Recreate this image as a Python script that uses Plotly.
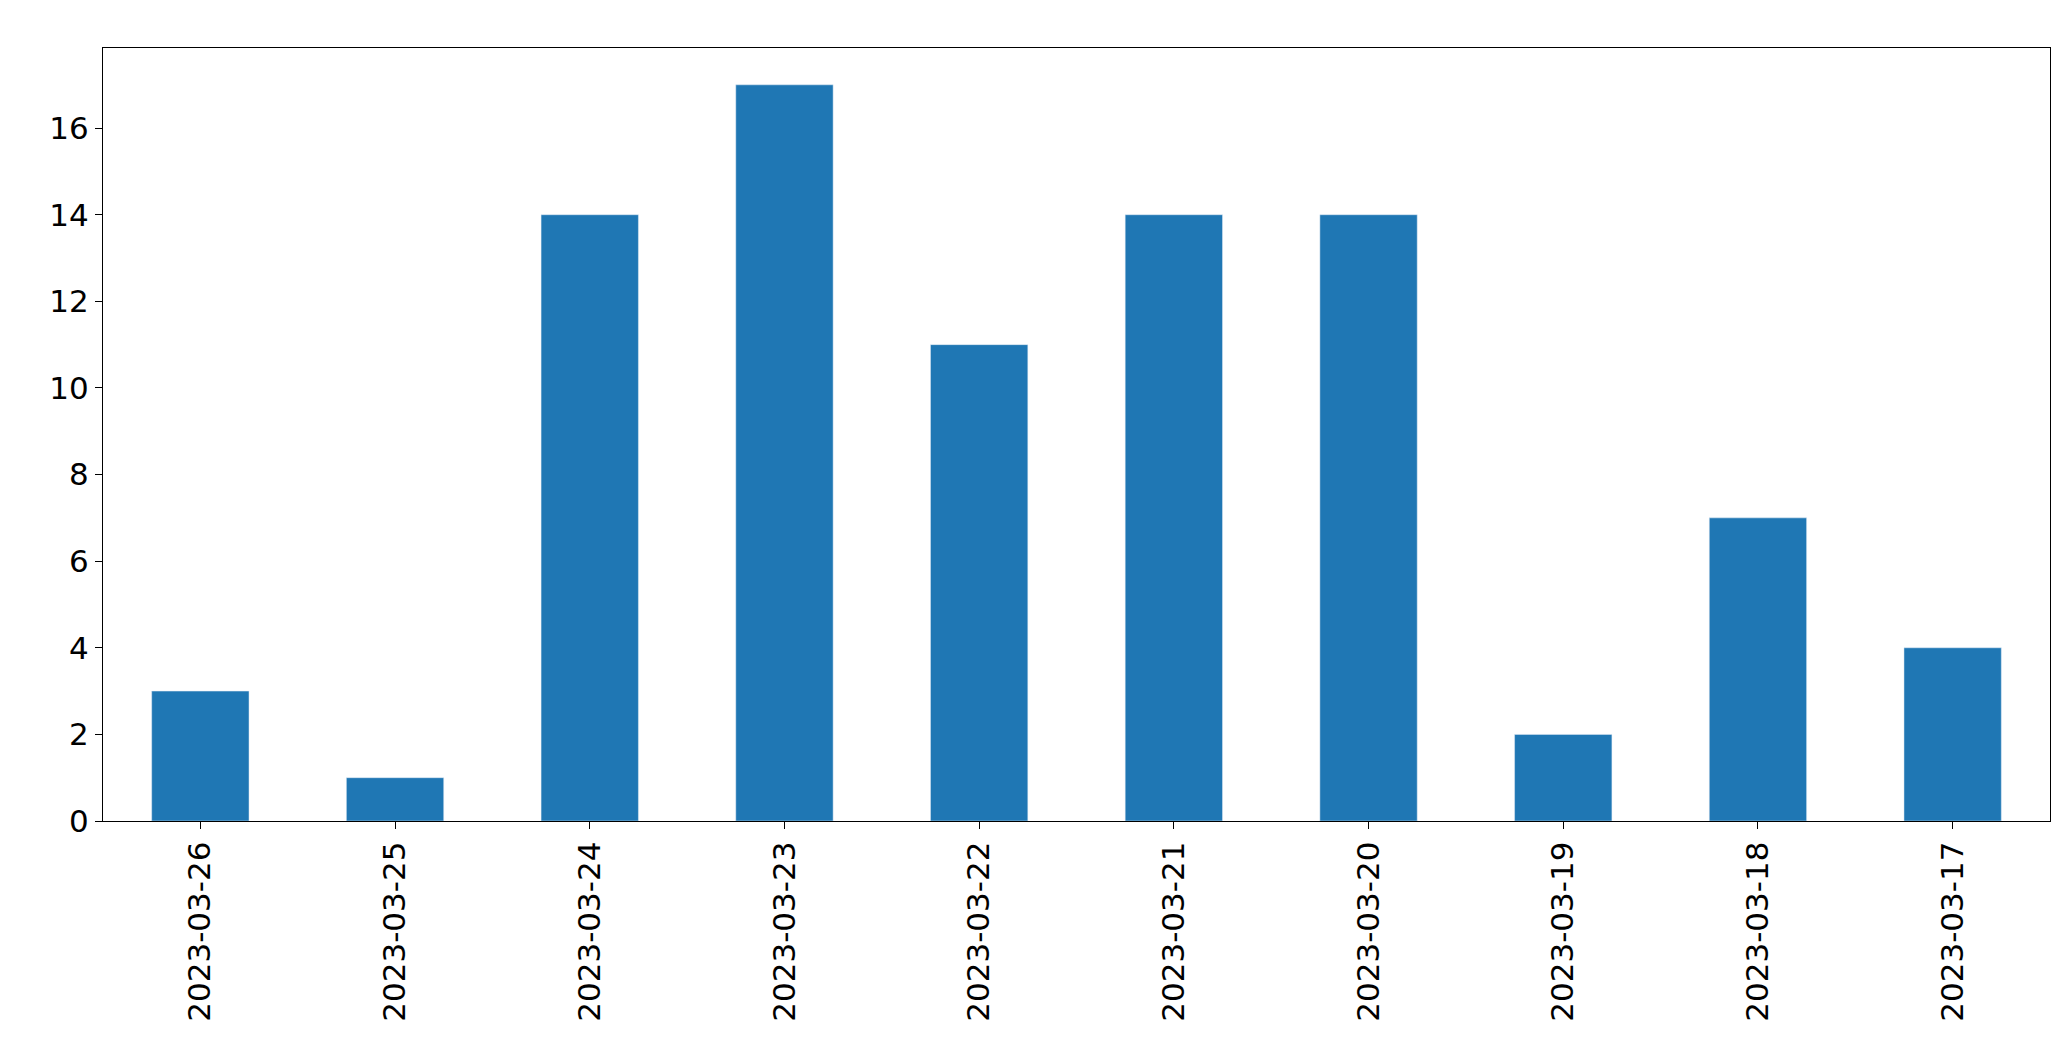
import plotly.graph_objects as go

dates = ['2023-03-26', '2023-03-25', '2023-03-24', '2023-03-23', '2023-03-22',
         '2023-03-21', '2023-03-20', '2023-03-19', '2023-03-18', '2023-03-17']
counts = [3, 1, 14, 17, 11, 14, 14, 2, 7, 4]

fig = go.Figure(data=[go.Bar(x=dates, y=counts, marker_color='#1f77b4', width=0.5)])
axis = dict(showline=True, linecolor='black', linewidth=1.3, mirror=True,
            ticks='outside', ticklen=7, tickcolor='black', showgrid=False,
            zeroline=False, tickfont=dict(family='DejaVu Sans', size=31, color='black'))
fig.update_xaxes(type='category', range=[-0.5, 9.5], tickangle=-90, **axis)
fig.update_yaxes(range=[0, 17.85], dtick=2, **axis)
fig.update_layout(width=2071, height=1061, plot_bgcolor='white', paper_bgcolor='white',
                  margin=dict(l=95, r=29, t=40, b=248), showlegend=False)
fig.write_html("out.html")
